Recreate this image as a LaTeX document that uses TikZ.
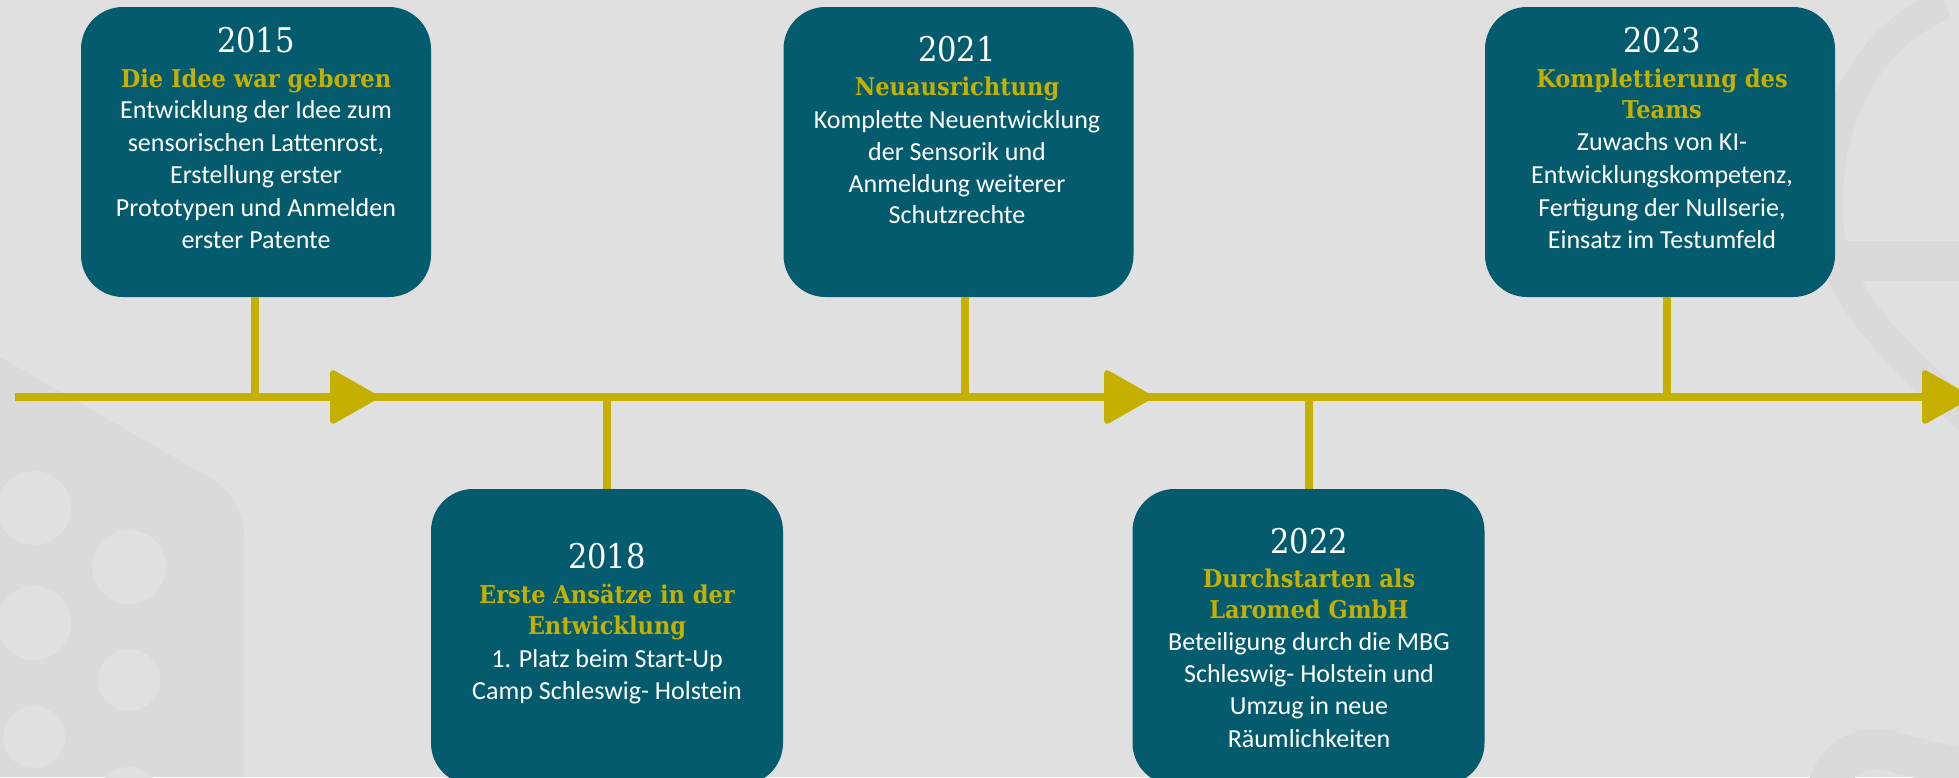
\documentclass[tikz,border=0pt]{standalone}
\usepackage{fontspec}
\newfontfamily\bodyfont{Carlito}
\newfontfamily\headfont[FakeStretch=0.92]{DejaVu Serif}
\newfontfamily\yearfont[FakeStretch=0.9]{DejaVu Serif}
\definecolor{bgc}{HTML}{E0E0E0}
\definecolor{decoc}{HTML}{DADADA}
\definecolor{boxc}{HTML}{035B6D}
\definecolor{gold}{HTML}{C5B000}
\tikzset{
  box/.style={fill=boxc, rounded corners=42pt, minimum width=350pt, minimum height=290pt, inner sep=0pt},
  stem/.style={draw=gold, line width=8pt},
  tip/.style={fill=gold, rounded corners=6pt},
  yr/.style={anchor=base, text=white, font=\yearfont\fontsize{34}{38}\selectfont, inner sep=0pt},
  hd/.style={anchor=base, text=gold, font=\headfont\bfseries\fontsize{24.5}{28}\selectfont, inner sep=0pt},
  bd/.style={anchor=base, text=white, font=\bodyfont\fontsize{26}{30}\selectfont, inner sep=0pt},
  deco/.style={draw=decoc},
}
\begin{document}
\begin{tikzpicture}[x=1pt, y=-1pt]
\fill[bgc] (0,0) rectangle (1959,777);
\useasboundingbox (0,0) rectangle (1959,777);
% background decorations
\fill[decoc] (0,357) -- (205,475) .. controls (232,490) and (244,512) .. (244,540) -- (244,777) -- (0,777) -- cycle;
\fill[bgc] (34,508) circle (37) (129,567) circle (37) (34,623) circle (37)
           (129,680) circle (31) (34,737) circle (31) (129,798) circle (31);
\draw[deco, line width=30pt] (1945,4) .. controls (1860,40) and (1822,130) .. (1828,225) .. controls (1833,290) and (1885,345) .. (1975,425);
\draw[deco, line width=40pt] (1838,261) -- (1959,261);
\draw[deco, line width=40pt] (1825,800) .. controls (1830,765) and (1852,745) .. (1885,750) -- (1975,772);
% axis
\coordinate (L) at (15,397);
\coordinate (R) at (1959,397);
\draw[stem] (L) -- (R);
% boxes
\node[box] (b15) at (256,152) {};
\node[box, minimum width=352pt, minimum height=296pt] (b18) at (607,637) {};
\node[box] (b21) at (958.5,152) {};
\node[box, minimum width=352pt, minimum height=296pt] (b22) at (1308.5,637) {};
\node[box] (b23) at (1660,152) {};
% stems
\draw[stem] ([xshift=-1pt]b15.south) -- ([xshift=-1pt]b15.south |- L);
\draw[stem] (b18.north) -- (b18.north |- L);
\draw[stem] ([xshift=6.5pt]b21.south) -- ([xshift=6.5pt]b21.south |- L);
\draw[stem] (b22.north) -- (b22.north |- L);
\draw[stem] ([xshift=7pt]b23.south) -- ([xshift=7pt]b23.south |- L);
% arrow tips
\coordinate (a1) at (355,397);
\coordinate (a2) at (1129,397);
\coordinate (a3) at (1947,397);
\foreach \a in {a1,a2,a3}
  \fill[tip, shift={(\a)}] (-25,-29) -- (26,0) -- (-25,29) -- cycle;
% 2015
\node[yr] (y15) at (256,52) {2015};
\node[hd] (h15a) at (256,87) {Die Idee war geboren};
\node[bd] (d15a) at (256,118) {Entwicklung der Idee zum};
\node[bd] (d15b) at (256,151) {sensorischen Lattenrost,};
\node[bd] (d15c) at (256,183) {Erstellung erster};
\node[bd] (d15d) at (256,216) {Prototypen und Anmelden};
\node[bd] (d15e) at (256,248) {erster Patente};
% 2021
\node[yr] (y21) at (957,61) {2021};
\node[hd] (h21a) at (957,95) {Neuausrichtung};
\node[bd] (d21a) at (957,128) {Komplette Neuentwicklung};
\node[bd] (d21b) at (957,160) {der Sensorik und};
\node[bd] (d21c) at (957,192) {Anmeldung weiterer};
\node[bd] (d21d) at (957,223) {Schutzrechte};
% 2023
\node[yr] (y23) at (1662,52) {2023};
\node[hd] (h23a) at (1662,87) {Komplettierung des};
\node[hd] (h23b) at (1662,118) {Teams};
\node[bd] (d23a) at (1662,150) {Zuwachs von KI-};
\node[bd] (d23b) at (1662,183) {Entwicklungskompetenz,};
\node[bd] (d23c) at (1662,216) {Fertigung der Nullserie,};
\node[bd] (d23d) at (1662,248) {Einsatz im Testumfeld};
% 2018
\node[yr] (y18) at (607,568) {2018};
\node[hd] (h18a) at (607,603) {Erste Ansätze in der};
\node[hd] (h18b) at (607,634) {Entwicklung};
\node[bd] (d18a) at (607,667) {1. Platz beim Start-Up};
\node[bd] (d18b) at (607,699) {Camp Schleswig- Holstein};
% 2022
\node[yr] (y22) at (1309,553) {2022};
\node[hd] (h22a) at (1309,587) {Durchstarten als};
\node[hd] (h22b) at (1309,618) {Laromed GmbH};
\node[bd] (d22a) at (1309,650) {Beteiligung durch die MBG};
\node[bd] (d22b) at (1309,682) {Schleswig- Holstein und};
\node[bd] (d22c) at (1309,714) {Umzug in neue};
\node[bd] (d22d) at (1309,747) {Räumlichkeiten};
\end{tikzpicture}
\end{document}
